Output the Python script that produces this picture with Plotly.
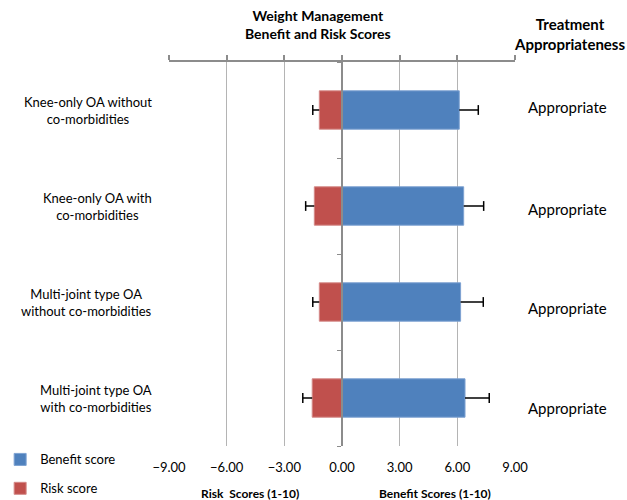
import plotly.graph_objects as go

categories = [
    "Knee-only OA without<br>co-morbidities",
    "Knee-only OA with<br>co-morbidities",
    "Multi-joint type OA<br>without co-morbidities",
    "Multi-joint type OA<br>with co-morbidities",
]
benefit = [6.10, 6.33, 6.17, 6.40]
benefit_err = [0.99, 1.04, 1.18, 1.26]
risk = [-1.18, -1.44, -1.18, -1.55]
risk_err = [0.34, 0.45, 0.34, 0.49]
appropriateness = ["Appropriate", "Appropriate", "Appropriate", "Appropriate"]
tick_vals = [-9, -6, -3, 0, 3, 6, 9]

FONT = "Lato"
BLUE = "#4F81BD"
RED = "#C0504D"
GRID = "#b4b4b4"
AXIS = "#8c8c8c"

idx = list(range(len(categories)))

fig = go.Figure()
fig.add_trace(go.Bar(
    x=benefit, y=idx, orientation="h", name="Benefit score",
    marker=dict(color=BLUE, line=dict(color="#7ea2d2", width=1)),
    width=0.4, legendgroup="b",
    error_x=dict(type="data", symmetric=False, array=benefit_err,
                 arrayminus=[0] * len(benefit), width=0, color="black", thickness=1.5),
))
fig.add_trace(go.Bar(
    x=risk, y=idx, orientation="h", name="Risk score",
    marker=dict(color=RED, line=dict(color="#d48a88", width=1)),
    width=0.4, legendgroup="r",
    error_x=dict(type="data", symmetric=False, array=[0] * len(risk),
                 arrayminus=risk_err, width=0, color="black", thickness=1.5),
))
# error bar caps (outer end only)
fig.add_trace(go.Scatter(
    x=[b + e for b, e in zip(benefit, benefit_err)] + [r - e for r, e in zip(risk, risk_err)],
    y=idx + idx, mode="markers", showlegend=False, hoverinfo="skip",
    marker=dict(symbol="line-ns", size=7, line=dict(color="black", width=1.5)),
    xaxis="x2",
))

fig.update_layout(
    width=627, height=500,
    margin=dict(l=169, r=112, t=62, b=54, autoexpand=False),
    plot_bgcolor="white", paper_bgcolor="white",
    barmode="overlay",
    font=dict(family=FONT, size=12, color="black"),
    xaxis=dict(range=[-9, 9], tickvals=tick_vals, tickformat=".2f",
               showgrid=True, gridcolor=GRID, gridwidth=1, zeroline=False,
               showline=False, ticks="", side="bottom",
               tickfont=dict(size=13, family=FONT), ticklabelstandoff=12),
    xaxis2=dict(range=[-9, 9], matches="x", overlaying="x", side="top",
                tickvals=tick_vals, showticklabels=False, showgrid=False,
                zeroline=False, showline=True, linecolor=AXIS, linewidth=1.5,
                ticks="outside", ticklen=5, tickcolor=AXIS, tickwidth=1.5),
    yaxis=dict(range=[3.5, -0.5], tickvals=[-0.5, 0.5, 1.5, 2.5, 3.5],
               showticklabels=False, showgrid=False, zeroline=False,
               showline=True, linecolor=AXIS, linewidth=1.5,
               ticks="outside", ticklen=4, tickcolor=AXIS, tickwidth=1,
               anchor="free", position=0.5),
    legend=dict(x=-0.488, y=0.004, xanchor="left", yanchor="top",
                font=dict(size=13, family=FONT), tracegroupgap=9,
                bgcolor="rgba(0,0,0,0)", itemwidth=30),
    showlegend=True,
)

appr_shift = [3, -3, -6, -10]
annotations = []
for i, c in enumerate(categories):
    annotations.append(dict(x=0, y=i, xref="paper", yref="y", text=c,
                            xanchor="right", xshift=-15, align="center",
                            showarrow=False, font=dict(size=13, family=FONT)))
for i, a in enumerate(appropriateness):
    annotations.append(dict(x=1, y=i, xref="paper", yref="y", text=a,
                            xanchor="center", xshift=52, yshift=appr_shift[i], showarrow=False,
                            font=dict(size=15, family=FONT)))
annotations += [
    dict(x=0.43, y=1, xref="paper", yref="paper", xanchor="center", yanchor="bottom",
         yshift=18, text="<b>Weight Management<br>Benefit and Risk Scores</b>",
         showarrow=False, font=dict(size=14, family=FONT)),
    dict(x=1, y=1, xref="paper", yref="paper", xanchor="center", yanchor="bottom",
         xshift=54, yshift=7, text="<b>Treatment<br>Appropriateness</b>",
         showarrow=False, font=dict(size=15, family=FONT)),
    dict(x=0.235, y=0, xref="paper", yref="paper", xanchor="center", yanchor="top",
         yshift=-38, text="<b>Risk  Scores (1-10)</b>", showarrow=False,
         font=dict(size=12, family=FONT)),
    dict(x=0.77, y=0, xref="paper", yref="paper", xanchor="center", yanchor="top",
         yshift=-38, text="<b>Benefit Scores (1-10)</b>", showarrow=False,
         font=dict(size=12, family=FONT)),
]
fig.update_layout(annotations=annotations)

fig.write_html("out.html", config={"displayModeBar": False},
               post_script="document.body.style.margin='0';document.body.style.overflow='hidden';")
